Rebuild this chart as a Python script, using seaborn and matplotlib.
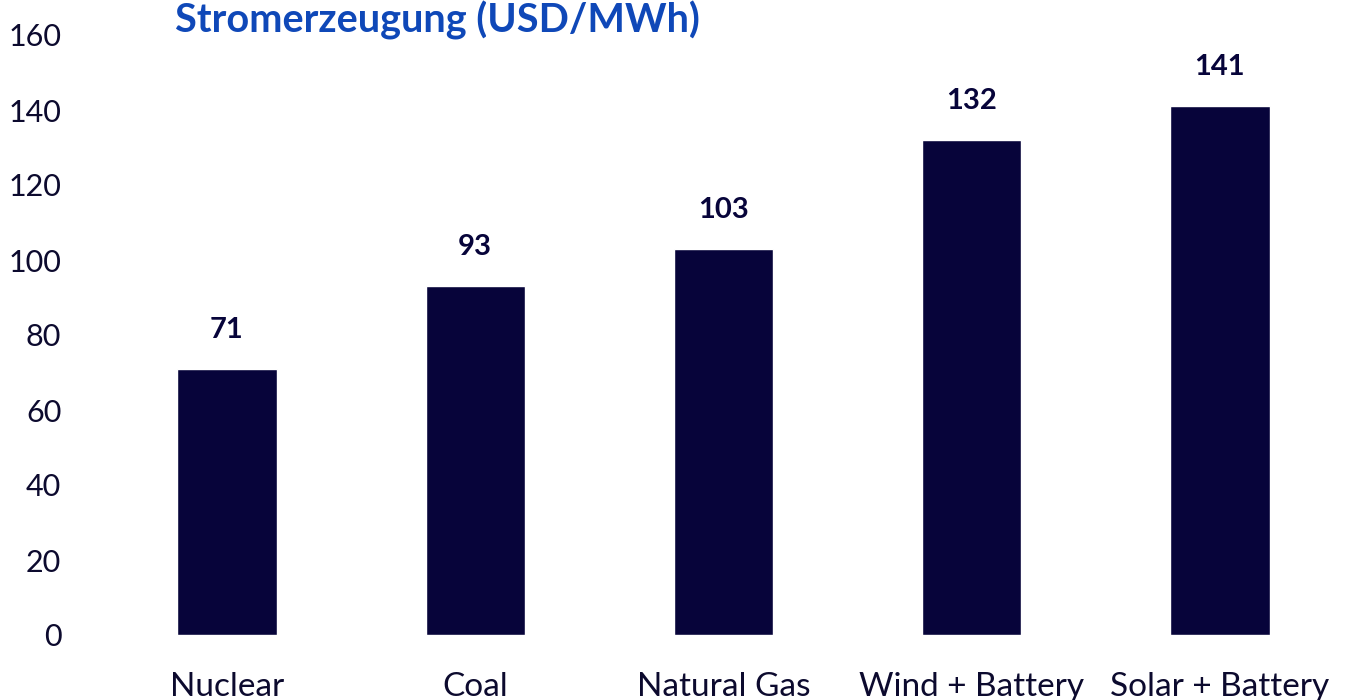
import matplotlib
matplotlib.use("Agg")
import matplotlib.pyplot as plt
import seaborn as sns
import pandas as pd

categories = ["Nuclear", "Coal", "Natural Gas", "Wind + Battery", "Solar + Battery"]
values = [71, 93, 103, 132, 141]
yticks = [0, 20, 40, 60, 80, 100, 120, 140, 160]
title = "Stromerzeugung (USD/MWh)"

bar_color = "#07043a"
title_color = "#0f48b8"

sns.set_theme(style="white")
plt.rcParams["font.family"] = ["Lato", "DejaVu Sans"]

df = pd.DataFrame({"category": categories, "value": values})

fig = plt.figure(figsize=(13.45, 7.0), dpi=100)
ax = fig.add_axes([78 / 1345, 65 / 700, (1344 - 78) / 1345, 600 / 700])

sns.barplot(data=df, x="category", y="value", color=bar_color, width=0.4,
            saturation=1, ax=ax)

ax.set_ylim(0, 160)
ax.set_xlim(-0.6, 4.5)
ax.set_yticks(yticks)
ax.set_yticklabels([str(t) for t in yticks])
ax.set_xlabel("")
ax.set_ylabel("")
for s in ax.spines.values():
    s.set_visible(False)
ax.tick_params(axis="y", length=0, pad=12, labelsize=22, labelcolor="#0c0a2e")
ax.tick_params(axis="x", length=0, pad=27, labelsize=24, labelcolor="#0c0a2e")

for i, v in enumerate(values):
    ax.annotate(str(v), xy=(i, v), xytext=(0, 28), textcoords="offset points",
                ha="center", va="center", fontsize=21, fontweight="bold",
                color=bar_color)

fig.text(175 / 1345, 1 - 33 / 700, title, fontsize=28.5, fontweight="bold",
         color=title_color, ha="left", va="baseline")

fig.savefig("out.png", dpi=100, facecolor="white")
